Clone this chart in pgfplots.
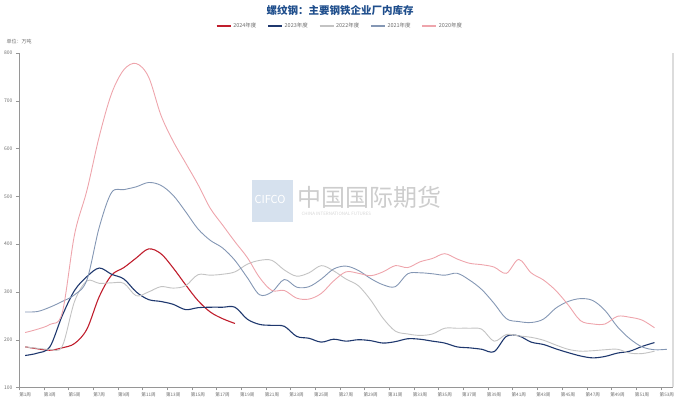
\documentclass[border=0pt]{standalone}
\usepackage{pgfplots}
\pgfplotsset{compat=1.18}
\usepackage{fontspec}
\setmainfont{Noto Sans CJK SC}
\definecolor{c24}{RGB}{192,30,45}
\definecolor{c23}{RGB}{31,56,110}
\definecolor{c22}{RGB}{195,195,195}
\definecolor{c21}{RGB}{132,151,180}
\definecolor{c20}{RGB}{238,165,172}
\definecolor{titleblue}{RGB}{31,78,140}
\definecolor{axgrey}{RGB}{150,150,150}
\definecolor{txtgrey}{RGB}{110,110,110}
\definecolor{wmbox}{RGB}{214,225,238}
\definecolor{wmtext}{RGB}{205,205,205}
\definecolor{wmsmall}{RGB}{215,215,215}
\definecolor{rborder}{RGB}{220,220,220}
\begin{document}
\begin{tikzpicture}
\begin{axis}[
  scale only axis, width=654pt, height=334.5pt,
  xmin=0.5, xmax=53.5, ymin=100, ymax=800,
  axis lines*=left,
  axis line style={draw=axgrey, line width=0.6pt},
  every axis plot/.append style={smooth, tension=0.55, mark=none},
  ytick={100,200,...,800},
  yticklabel style={font=\fontsize{5}{6}\selectfont, text=txtgrey},
  /pgf/number format/assume math mode=true,
  tick align=outside,
  major tick length=3pt,
  tick style={draw=axgrey},
  xtick={0.5,2.5,...,52.5},
  xticklabels={},
  extra x ticks={1,3,...,53},
  extra x tick labels={第1周,第3周,第5周,第7周,第9周,第11周,第13周,第15周,第17周,第19周,第21周,第23周,第25周,第27周,第29周,第31周,第33周,第35周,第37周,第39周,第41周,第43周,第45周,第47周,第49周,第51周,第53周},
  extra x tick style={major tick length=0pt, xticklabel style={font=\fontsize{4.6}{5}\selectfont, text=txtgrey, inner sep=0pt, anchor=north, yshift=-4.5pt}},
  legend style={draw=none, fill=none, font=\fontsize{5.5}{6}\selectfont, text=txtgrey,
    at={(0.491,1.081)}, anchor=center, legend columns=-1,
    /tikz/every even column/.append style={column sep=9pt}},
  legend image code/.code={\draw[#1, line width=1.2pt] (0pt,0pt) -- (14pt,0pt);},
]
\coordinate (O) at (rel axis cs:0,0);
\addplot[c24, line width=1.1pt] coordinates {
(1,185)(2,181)(3,178)(4,183)(5,192)(6,222)(7,290)(8,335)(9,351)(10,371)(11,390)(12,380)(13,350)(14,315)(15,282)(16,258)(17,244)(18,234)};
\addlegendentry{2024年度}
\addplot[c23, line width=1.1pt] coordinates {
(1,167)(2,172)(3,185)(4,250)(5,303)(6,332)(7,350)(8,337)(9,327)(10,300)(11,284)(12,280)(13,274)(14,263)(15,267)(16,268)(17,268)(18,268)(19,243)(20,232)(21,230)(22,228)(23,207)(24,203)(25,195)(26,201)(27,197)(28,200)(29,198)(30,193)(31,196)(32,202)(33,201)(34,197)(35,193)(36,185)(37,183)(38,180)(39,175)(40,207)(41,208)(42,195)(43,190)(44,181)(45,173)(46,166)(47,162)(48,165)(49,172)(50,176)(51,186)(52,194)};
\addlegendentry{2023年度}
\addplot[c22, line width=0.9pt] coordinates {
(1,185)(2,182)(3,180)(4,186)(5,280)(6,323)(7,318)(8,319)(9,318)(10,292)(11,300)(12,311)(13,308)(14,313)(15,336)(16,335)(17,337)(18,342)(19,358)(20,366)(21,366)(22,346)(23,333)(24,340)(25,355)(26,344)(27,327)(28,313)(29,283)(30,245)(31,218)(32,212)(33,209)(34,212)(35,224)(36,224)(37,224)(38,222)(39,197)(40,211)(41,208)(42,205)(43,199)(44,189)(45,180)(46,176)(47,177)(48,179)(49,180)(50,172)(51,171)(52,176)};
\addlegendentry{2022年度}
\addplot[c21, line width=0.9pt] coordinates {
(1,258)(2,259)(3,268)(4,280)(5,294)(6,325)(7,435)(8,508)(9,514)(10,520)(11,529)(12,523)(13,502)(14,468)(15,432)(16,408)(17,392)(18,366)(19,330)(20,294)(21,300)(22,326)(23,310)(24,311)(25,327)(26,348)(27,354)(28,345)(29,328)(30,315)(31,311)(32,338)(33,340)(34,338)(35,335)(36,339)(37,325)(38,305)(39,276)(40,244)(41,238)(42,236)(43,243)(44,266)(45,280)(46,286)(47,282)(48,261)(49,227)(50,202)(51,185)(52,179)(53,180)};
\addlegendentry{2021年度}
\addplot[c20, line width=0.9pt] coordinates {
(1,215)(2,222)(3,232)(4,256)(5,420)(6,512)(7,625)(8,715)(9,765)(10,778)(11,750)(12,670)(13,615)(14,570)(15,525)(16,475)(17,440)(18,405)(19,372)(20,330)(21,303)(22,303)(23,287)(24,285)(25,297)(26,323)(27,342)(28,339)(29,334)(30,342)(31,355)(32,351)(33,363)(34,370)(35,380)(36,369)(37,360)(38,357)(39,352)(40,339)(41,368)(42,340)(43,325)(44,303)(45,273)(46,240)(47,233)(48,233)(49,249)(50,247)(51,241)(52,225)};
\addlegendentry{2020年度}
\end{axis}
\begin{scope}[shift={(O)}, xshift=-19pt, yshift=-13.5pt, x=1pt, y=1pt]
% watermark
\fill[wmbox] (252,179) rectangle (293,221);
\node[anchor=west,text=white,font=\fontsize{11}{11}\selectfont] at (251,202) {CIFCO};
\node[anchor=west,text=wmtext,font=\fontsize{24}{24}\selectfont] at (294,204) {中国国际期货};
\node[anchor=west,text=wmsmall,font=\fontsize{4.5}{5}\selectfont] at (298,187) {CHINA  INTERNATIONAL  FUTURES};
% title etc
\node[font=\fontsize{10.5}{12}\selectfont\bfseries,text=titleblue] at (340,391) {螺纹钢：主要钢铁企业厂内库存};
\node[anchor=west,font=\fontsize{5}{6}\selectfont,text=txtgrey] at (3,359) {单位：万吨};
\draw[line width=2.5pt, rborder] (673,13.5) -- (673,348);
\pgfresetboundingbox
\path[use as bounding box] (0,0) rectangle (680,401);
\end{scope}
\end{tikzpicture}
\end{document}
